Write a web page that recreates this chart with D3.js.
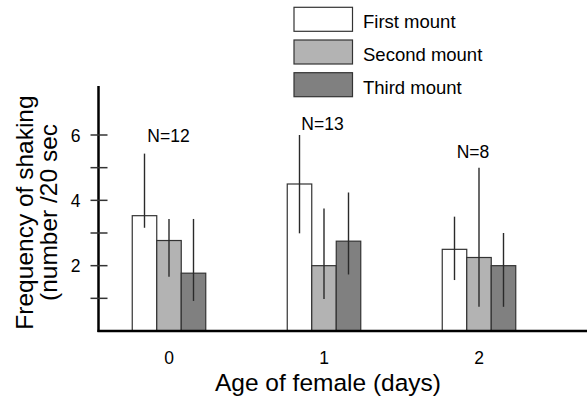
<!DOCTYPE html>
<html>
<head>
<meta charset="utf-8">
<title>Frequency of shaking</title>
<script src="https://d3js.org/d3.v7.min.js"></script>
<style>
  html, body { margin: 0; padding: 0; background: #fff; }
  svg { display: block; font-family: Arial, "Liberation Sans", sans-serif; }
</style>
</head>
<body>
<svg id="chart"></svg>
<script>
// categories (age of female, days)
const ages = ["0", "1", "2"];
const seriesNames = ["First mount", "Second mount", "Third mount"];

// bar means
const firstMount = [3.53, 4.5, 2.5];
const secondMount = [2.77, 2.0, 2.25];
const thirdMount = [1.77, 2.75, 2.0];

// error bar ends (upper / lower)
const firstHi = [5.43, 6.0, 3.5];
const firstLo = [3.16, 2.99, 1.56];
const secondHi = [3.43, 3.75, 5.0];
const secondLo = [1.66, 0.98, 0.74];
const thirdHi = [3.43, 4.24, 3.0];
const thirdLo = [0.92, 1.73, 0.74];

// sample size labels and the height they sit at
const nLabels = ["N=12", "N=13", "N=8"];
const nLabelAt = [5.79, 6.15, 5.3];

const yTicks = [1, 2, 3, 4, 5, 6];
const yTickLabels = [2, 4, 6];

const colors = ["#ffffff", "#b3b3b3", "#808080"];

const width = 587, height = 396;
const svg = d3.select("#chart").attr("width", width).attr("height", height);

const x = d3.scalePoint().domain(ages).range([169, 479]);
const xs = d3.scaleBand().domain(seriesNames).range([-36.75, 36.75]);
const y = d3.scaleLinear().domain([0, 7.5]).range([331, 86]);

const means = [firstMount, secondMount, thirdMount];
const his = [firstHi, secondHi, thirdHi];
const los = [firstLo, secondLo, thirdLo];

const data = [];
seriesNames.forEach((s, si) => {
  ages.forEach((a, ai) => {
    data.push({ age: a, series: s, si: si, v: means[si][ai], hi: his[si][ai], lo: los[si][ai] });
  });
});

// bars
svg.append("g")
  .selectAll("rect")
  .data(data)
  .join("rect")
  .attr("x", d => x(d.age) + xs(d.series))
  .attr("y", d => y(d.v))
  .attr("width", xs.bandwidth())
  .attr("height", d => y(0) - y(d.v))
  .attr("fill", d => colors[d.si])
  .attr("stroke", "#333")
  .attr("stroke-width", 1.2);

// error bars (single vertical lines)
svg.append("g")
  .selectAll("line")
  .data(data)
  .join("line")
  .attr("x1", d => x(d.age) + xs(d.series) + xs.bandwidth() / 2)
  .attr("x2", d => x(d.age) + xs(d.series) + xs.bandwidth() / 2)
  .attr("y1", d => y(d.hi))
  .attr("y2", d => y(d.lo))
  .attr("stroke", "#2a2a2a")
  .attr("stroke-width", 1.4);

// N labels
svg.append("g")
  .selectAll("text")
  .data(ages)
  .join("text")
  .attr("x", (d, i) => x(d) + [-0.5, -1.5, -6][i])
  .attr("y", (d, i) => y(nLabelAt[i]))
  .attr("text-anchor", "middle")
  .attr("font-size", 17.5)
  .attr("fill", "#000")
  .text((d, i) => nLabels[i]);

// y axis
const yAxis = svg.append("g").attr("transform", "translate(98.5,0)");
yAxis.append("line")
  .attr("y1", y(7.5)).attr("y2", y(0) + 1)
  .attr("stroke", "#000").attr("stroke-width", 2.5);
yAxis.selectAll(".tick")
  .data(yTicks)
  .join("line")
  .attr("x1", -8).attr("x2", 9)
  .attr("y1", d => y(d)).attr("y2", d => y(d))
  .attr("stroke", "#333").attr("stroke-width", 1.5);
yAxis.selectAll("text")
  .data(yTickLabels)
  .join("text")
  .attr("x", -18)
  .attr("y", d => y(d) + 6.5)
  .attr("text-anchor", "end")
  .attr("font-size", 17.5)
  .attr("fill", "#000")
  .text(d => d);

// x axis
svg.append("line")
  .attr("x1", 97.5).attr("x2", width)
  .attr("y1", y(0)).attr("y2", y(0))
  .attr("stroke", "#000").attr("stroke-width", 2.5);
svg.append("g")
  .selectAll("text")
  .data(ages)
  .join("text")
  .attr("x", d => x(d))
  .attr("y", 364)
  .attr("text-anchor", "middle")
  .attr("font-size", 17.5)
  .attr("fill", "#000")
  .text(d => d);

// axis titles
svg.append("text")
  .attr("x", 328).attr("y", 391)
  .attr("text-anchor", "middle")
  .attr("font-size", 24.5)
  .attr("fill", "#000")
  .text("Age of female (days)");

const yt = svg.append("text")
  .attr("transform", "translate(0,212.5) rotate(-90)")
  .attr("text-anchor", "middle")
  .attr("font-size", 24.5)
  .attr("fill", "#000");
yt.append("tspan").attr("x", 0).attr("y", 33).text("Frequency of shaking");
yt.append("tspan").attr("x", 0).attr("y", 57).text("(number /20 sec");

// legend
const legend = svg.append("g")
  .selectAll("g")
  .data(seriesNames)
  .join("g")
  .attr("transform", (d, i) => `translate(294,${7.3 + i * 32.7})`);
legend.append("rect")
  .attr("width", 58.5).attr("height", 24)
  .attr("fill", (d, i) => colors[i])
  .attr("stroke", "#333").attr("stroke-width", 1.2);
legend.append("text")
  .attr("x", 69).attr("y", 21)
  .attr("font-size", 18.5)
  .attr("fill", "#000")
  .text(d => d);
</script>
</body>
</html>
